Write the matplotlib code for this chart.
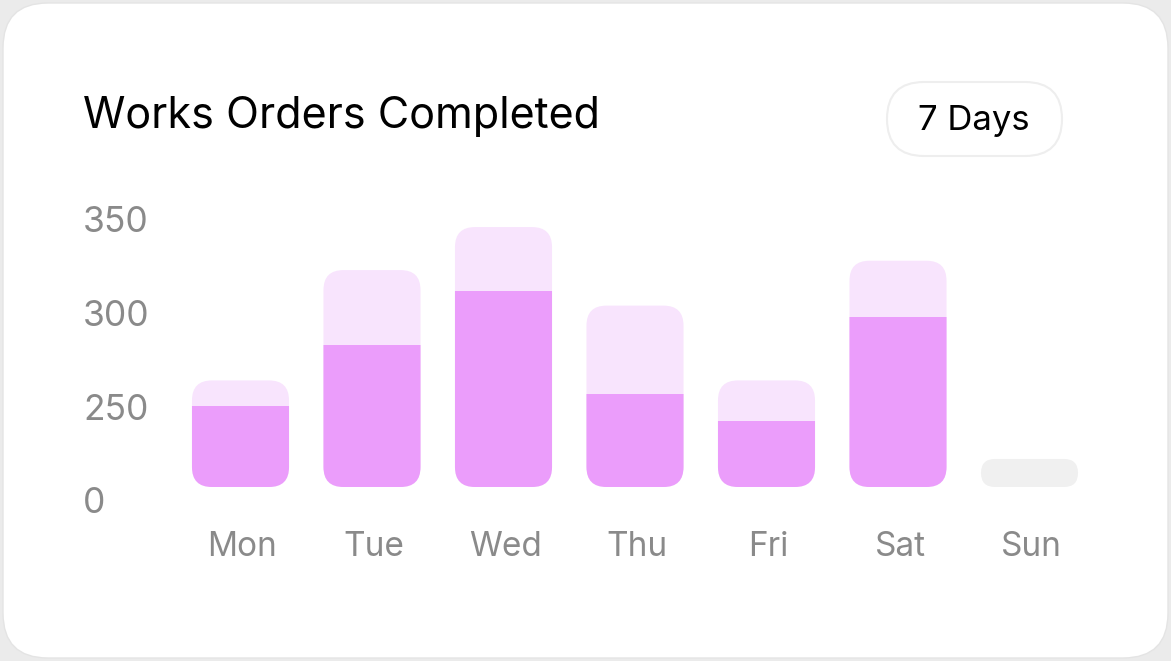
import numpy as np
import matplotlib.pyplot as plt
from matplotlib.patches import FancyBboxPatch, Rectangle
from matplotlib.transforms import IdentityTransform, ScaledTranslation

days = ['Mon', 'Tue', 'Wed', 'Thu', 'Fri', 'Sat', 'Sun']
completed = [217, 276, 305, 250, 176, 291, 0]
total = [257, 316, 339, 297, 257, 321, 0]
empty_value = 75
yticks = [0, 250, 300, 350]

dark = '#EB9DFB'
light = '#F8E4FD'
grey_bar = '#F0F0F0'
label_grey = '#8A8A8A'

plt.rcParams['font.family'] = ['Inter', 'DejaVu Sans']

W, H = 1171, 661
fig = plt.figure(figsize=(W / 100, H / 100), dpi=100)
fig.patch.set_facecolor('#EBEBEB')

# white card
card = FancyBboxPatch((3, 3), W - 6, H - 6, boxstyle='round,pad=0,rounding_size=45',
                      facecolor='white', edgecolor='#E4E4E4', linewidth=1,
                      transform=IdentityTransform(), zorder=-10)
fig.add_artist(card)

fig.text(83 / W, 1 - 128 / H, 'Works Orders Completed', fontsize=31, color='black',
         va='baseline', ha='left')

pill = FancyBboxPatch((887, H - 156), 175, 74, boxstyle='round,pad=0,rounding_size=37',
                      facecolor='white', edgecolor='#EEEEEE', linewidth=1.5,
                      transform=IdentityTransform())
fig.add_artist(pill)
fig.text(974 / W, 1 - 121 / H, '7 Days', fontsize=25, color='black', ha='center', va='center')

# axes: bar pitch 131.5 px, y scale piecewise so ticks are evenly spaced
left = 240.5 - 131.5 / 2
ax = fig.add_axes([left / W, (H - 487) / H, 7 * 131.5 / W, 3 * 93.5 / H])
ax.set_facecolor('none')


def fwd(v):
    return np.interp(v, yticks, [0, 1, 2, 3])


def inv(s):
    return np.interp(s, [0, 1, 2, 3], yticks)


ax.set_yscale('function', functions=(fwd, inv))
ax.set_xlim(-0.5, 6.5)
ax.set_ylim(0, 350)
for s in ax.spines.values():
    s.set_visible(False)

x = np.arange(len(days))
ax.set_xticks(x + 0.015)
ax.set_xticklabels(days, fontsize=24, color=label_grey)
ax.set_yticks(yticks)
ax.set_yticklabels([str(t) for t in yticks], fontsize=25.5, color=label_grey, ha='left')
ax.tick_params(axis='x', length=0, pad=32)
ax.tick_params(axis='y', length=0, pad=66)
for lab in ax.get_yticklabels():
    lab.set_transform(lab.get_transform() + ScaledTranslation(0, -0.13, fig.dpi_scale_trans))

bw = 0.738
r = 20


def rounded(xc, y0, y1, color, radius):
    (px0, py0), (px1, py1) = ax.transData.transform([(xc - bw / 2, y0), (xc + bw / 2, y1)])
    p = FancyBboxPatch((px0, py0), px1 - px0, py1 - py0,
                       boxstyle='round,pad=0,rounding_size=%g' % radius,
                       facecolor=color, edgecolor='none', transform=IdentityTransform())
    ax.add_patch(p)
    return p, (px0, py0, px1 - px0)


for i in range(len(days)):
    if total[i] == 0:
        p, geo = rounded(x[i], 0, empty_value, grey_bar, 14)
        continue
    rounded(x[i], 0, total[i], light, r)
    p, (px0, py0, pw) = rounded(x[i], 0, total[i], dark, r)
    ytop = ax.transData.transform((0, completed[i]))[1]
    clip = Rectangle((px0 - 2, py0 - 2), pw + 4, ytop - py0 + 2, transform=IdentityTransform())
    p.set_clip_path(clip)

fig.savefig('out.png', dpi=100)
